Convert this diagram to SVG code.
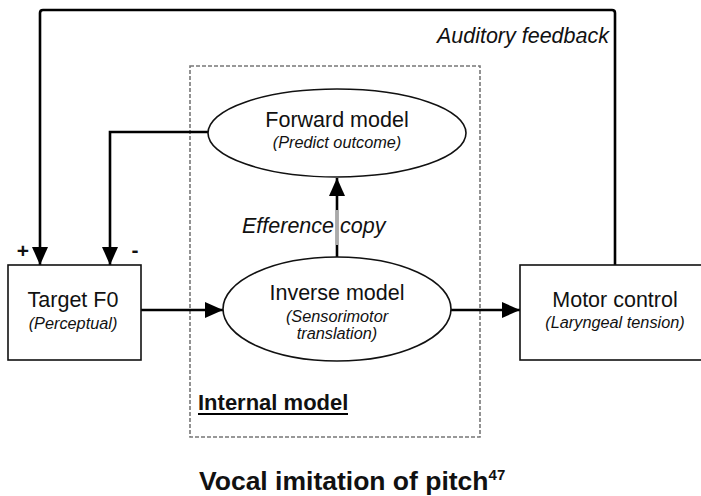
<svg xmlns="http://www.w3.org/2000/svg" width="701" height="496" viewBox="0 0 701 496">
<defs>
<marker id="ah" markerWidth="18" markerHeight="16" refX="18" refY="8" orient="auto" markerUnits="userSpaceOnUse"><path d="M0,0 L18,8 L0,16 Z" fill="#000"/></marker>
</defs>
<style>
.t{font-family:"Liberation Sans",Arial,sans-serif;fill:#111;text-anchor:middle}
.m{font-size:21.5px}
.s{font-size:16.3px;font-style:italic}
.i{font-size:21.5px;font-style:italic}
.b{font-weight:bold}
.box{fill:#fff;stroke:#111;stroke-width:1.6}
.ln{fill:none;stroke:#000;stroke-width:2.6}
</style>
<rect width="701" height="496" fill="#fff"/>
<g id="internal-model">
<rect x="190" y="66" width="290" height="371" fill="none" stroke="#777" stroke-width="1.6" stroke-dasharray="4 2"/>
<text class="t b" x="198" y="410" font-size="22" style="text-anchor:start">Internal model</text>
<line x1="198" y1="414" x2="348" y2="414" stroke="#000" stroke-width="2"/>
</g>
<g id="connectors">
<path class="ln" d="M615,265 V13 Q615,10 612,10 H43 Q40,10 40,13 V265" marker-end="url(#ah)"/>
<path class="ln" d="M208,132 H110 V265" marker-end="url(#ah)"/>
<path class="ln" d="M141,310 H223" marker-end="url(#ah)"/>
<path class="ln" d="M451,310 H520" marker-end="url(#ah)"/>
<path class="ln" d="M337,257 V178" marker-end="url(#ah)"/>
<line x1="337" y1="210" x2="337" y2="245" stroke="#aaa" stroke-width="3"/>
<text class="t i" x="609" y="43" style="text-anchor:end">Auditory feedback</text>
<text class="t i" x="242" y="233" style="text-anchor:start">Efference copy</text>
<text class="t b" x="23" y="258" font-size="21">+</text>
<text class="t b" x="135" y="257" font-size="21">-</text>
</g>
<g id="forward-model">
<ellipse cx="337" cy="133" rx="129" ry="44" fill="#fff" stroke="#111" stroke-width="1.6"/>
<text class="t m" x="337" y="127">Forward model</text>
<text class="t s" x="337" y="148">(Predict outcome)</text>
</g>
<g id="inverse-model">
<ellipse cx="337" cy="309" rx="114" ry="52" fill="#fff" stroke="#111" stroke-width="1.6"/>
<text class="t m" x="337" y="300">Inverse model</text>
<text class="t s" x="337" y="322">(Sensorimotor</text>
<text class="t s" x="337" y="339">translation)</text>
</g>
<g id="target-f0">
<rect class="box" x="8" y="265" width="133" height="95"/>
<text class="t m" x="73" y="307">Target F0</text>
<text class="t s" x="73" y="329">(Perceptual)</text>
</g>
<g id="motor-control">
<rect class="box" x="520" y="265" width="190" height="95"/>
<text class="t m" x="615" y="307">Motor control</text>
<text class="t s" x="615" y="328">(Laryngeal tension)</text>
</g>
<g id="title">
<text class="t b" x="199" y="490" font-size="26.5" style="text-anchor:start">Vocal imitation of pitch<tspan font-size="15" dy="-10">47</tspan></text>
</g>
</svg>
